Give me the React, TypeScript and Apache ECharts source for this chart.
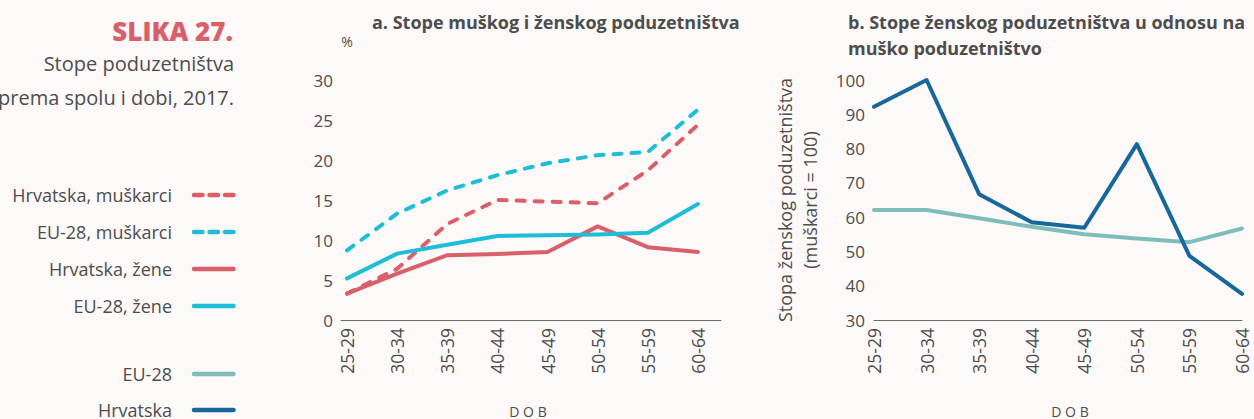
import React, { useEffect, useRef } from "react";
import * as echarts from "echarts";

const categories = ["25-29", "30-34", "35-39", "40-44", "45-49", "50-54", "55-59", "60-64"];

const hrMen = [3.3, 6.4, 12.0, 15.0, 14.8, 14.6, 18.7, 24.4];
const euMen = [8.7, 13.3, 16.2, 18.1, 19.6, 20.6, 21.0, 26.3];
const hrWomen = [3.3, 5.8, 8.1, 8.25, 8.5, 11.7, 9.1, 8.5];
const euWomen = [5.2, 8.3, 9.4, 10.5, 10.6, 10.7, 10.9, 14.5];

const euRatio = [62.1, 62.1, 59.7, 57.2, 55.0, 53.8, 52.7, 56.7];
const hrRatio = [92.2, 100, 66.7, 58.5, 56.9, 81.3, 48.7, 37.6];

const leftTicks = [0, 5, 10, 15, 20, 25, 30];
const rightTicks = [30, 40, 50, 60, 70, 80, 90, 100];

const RED = "#d9606a";
const CYAN = "#1ebdd8";
const TEAL = "#7fbdbb";
const NAVY = "#17679b";
const TEXT = "#4d4d4d";
const BG = "#fcf9f8";
const FONT = "'Open Sans', 'Noto Sans', sans-serif";

const legendItems = [
  { name: "Hrvatska, muškarci", color: RED, dashed: true, y: 195 },
  { name: "EU-28, muškarci", color: CYAN, dashed: true, y: 232 },
  { name: "Hrvatska, žene", color: RED, dashed: false, y: 269 },
  { name: "EU-28, žene", color: CYAN, dashed: false, y: 306 },
  { name: "EU-28", color: TEAL, dashed: false, y: 374 },
  { name: "Hrvatska", color: NAVY, dashed: false, y: 410 },
];

export default function App() {
  const ref = useRef<HTMLDivElement>(null);
  useEffect(() => {
    document.body.style.margin = "0";
    document.body.style.background = BG;
    const chart = echarts.init(ref.current!, null, { renderer: "svg" });

    const lineSeries = (name: string, data: number[], color: string, dashed: boolean, xi: number, idx: boolean) => ({
      name,
      type: "line",
      xAxisIndex: xi,
      yAxisIndex: xi,
      data: idx ? data.map((v, i) => [i, v]) : data,
      symbol: "none",
      lineStyle: { color, width: 4, type: dashed ? [8, 10] : "solid", cap: "round", join: "round" },
      itemStyle: { color },
      z: 2,
    });

    const graphics: any[] = [
      { type: "text", x: 233, y: 31, style: { text: "SLIKA 27.", fill: RED, font: `800 26px ${FONT}`, align: "right", verticalAlign: "middle" } },
      { type: "text", x: 234, y: 63, style: { text: "Stope poduzetništva", fill: TEXT, font: `20px ${FONT}`, align: "right", verticalAlign: "middle" } },
      { type: "text", x: 234, y: 97, style: { text: "prema spolu i dobi, 2017.", fill: TEXT, font: `20px ${FONT}`, align: "right", verticalAlign: "middle" } },
      { type: "text", x: 372, y: 22, style: { text: "a. Stope muškog i ženskog poduzetništva", fill: TEXT, font: `bold 18px ${FONT}`, verticalAlign: "middle" } },
      { type: "text", x: 848, y: 22, style: { text: "b. Stope ženskog poduzetništva u odnosu na", fill: TEXT, font: `bold 18px ${FONT}`, verticalAlign: "middle" } },
      { type: "text", x: 848, y: 48, style: { text: "muško poduzetništvo", fill: TEXT, font: `bold 18px ${FONT}`, verticalAlign: "middle" } },
      { type: "text", x: 528, y: 411, style: { text: "D O B", fill: TEXT, font: `14px ${FONT}`, align: "center", verticalAlign: "middle" } },
      { type: "text", x: 1070, y: 411, style: { text: "D O B", fill: TEXT, font: `14px ${FONT}`, align: "center", verticalAlign: "middle" } },
    ];
    legendItems.forEach((it) => {
      graphics.push({ type: "text", x: 172, y: it.y, style: { text: it.name, fill: TEXT, font: `18px ${FONT}`, align: "right", verticalAlign: "middle" } });
      graphics.push({
        type: "line",
        shape: { x1: 194, y1: it.y, x2: 233.5, y2: it.y },
        style: { stroke: it.color, lineWidth: 4.5, lineCap: "round", lineDash: it.dashed ? [8.5, 7] : null },
      });
    });

    const axisLabel = { color: TEXT, fontFamily: FONT, fontSize: 17 };

    chart.setOption({
      animation: false,
      backgroundColor: BG,
      textStyle: { fontFamily: FONT },
      graphic: graphics,
      grid: [
        { left: 341, right: 533, top: 80, height: 240 },
        { left: 874, right: 12, top: 80, height: 240 },
      ],
      xAxis: [
        {
          gridIndex: 0,
          type: "value",
          min: -0.12,
          max: 7.46,
          splitLine: { show: false },
          axisTick: { show: false },
          axisLine: { show: true, onZero: false, lineStyle: { color: "#6b6b6b", width: 1 } },
          axisLabel: {
            customValues: categories.map((_, i) => i),
            formatter: (v: number) => categories[Math.round(v)],
            rotate: 90,
            margin: 8,
            color: TEXT,
            fontFamily: FONT,
            fontSize: 17.5,
          },
        },
        {
          gridIndex: 1,
          type: "category",
          data: categories,
          boundaryGap: false,
          axisTick: { show: false },
          axisLine: { show: true, onZero: false, lineStyle: { color: "#6b6b6b", width: 1 } },
          axisLabel: { rotate: 90, margin: 8, color: TEXT, fontFamily: FONT, fontSize: 17.5, interval: 0 },
        },
      ],
      yAxis: [
        {
          gridIndex: 0,
          type: "value",
          min: leftTicks[0],
          max: leftTicks[leftTicks.length - 1],
          interval: 5,
          name: "%",
          nameLocation: "end",
          nameGap: 32,
          nameTextStyle: { color: TEXT, fontFamily: FONT, fontSize: 14, align: "center" },
          axisLine: { show: false },
          axisTick: { show: false },
          splitLine: { show: false },
          axisLabel: { ...axisLabel, margin: 8 },
        },
        {
          gridIndex: 1,
          type: "value",
          min: rightTicks[0],
          max: rightTicks[rightTicks.length - 1],
          interval: 10,
          name: "Stopa ženskog poduzetništva\n(muškarci = 100)",
          nameLocation: "middle",
          nameGap: 52,
          nameTextStyle: { color: TEXT, fontFamily: FONT, fontSize: 18, lineHeight: 25, align: "center" },
          axisLine: { show: false },
          axisTick: { show: false },
          splitLine: { show: false },
          axisLabel: { ...axisLabel, margin: 9 },
        },
      ],
      series: [
        lineSeries("Hrvatska, muškarci", hrMen, RED, true, 0, true),
        lineSeries("EU-28, muškarci", euMen, CYAN, true, 0, true),
        lineSeries("Hrvatska, žene", hrWomen, RED, false, 0, true),
        lineSeries("EU-28, žene", euWomen, CYAN, false, 0, true),
        lineSeries("EU-28", euRatio, TEAL, false, 1, false),
        lineSeries("Hrvatska", hrRatio, NAVY, false, 1, false),
      ],
    });
    return () => chart.dispose();
  }, []);
  return <div ref={ref} style={{ width: 1254, height: 419, background: BG }} />;
}
